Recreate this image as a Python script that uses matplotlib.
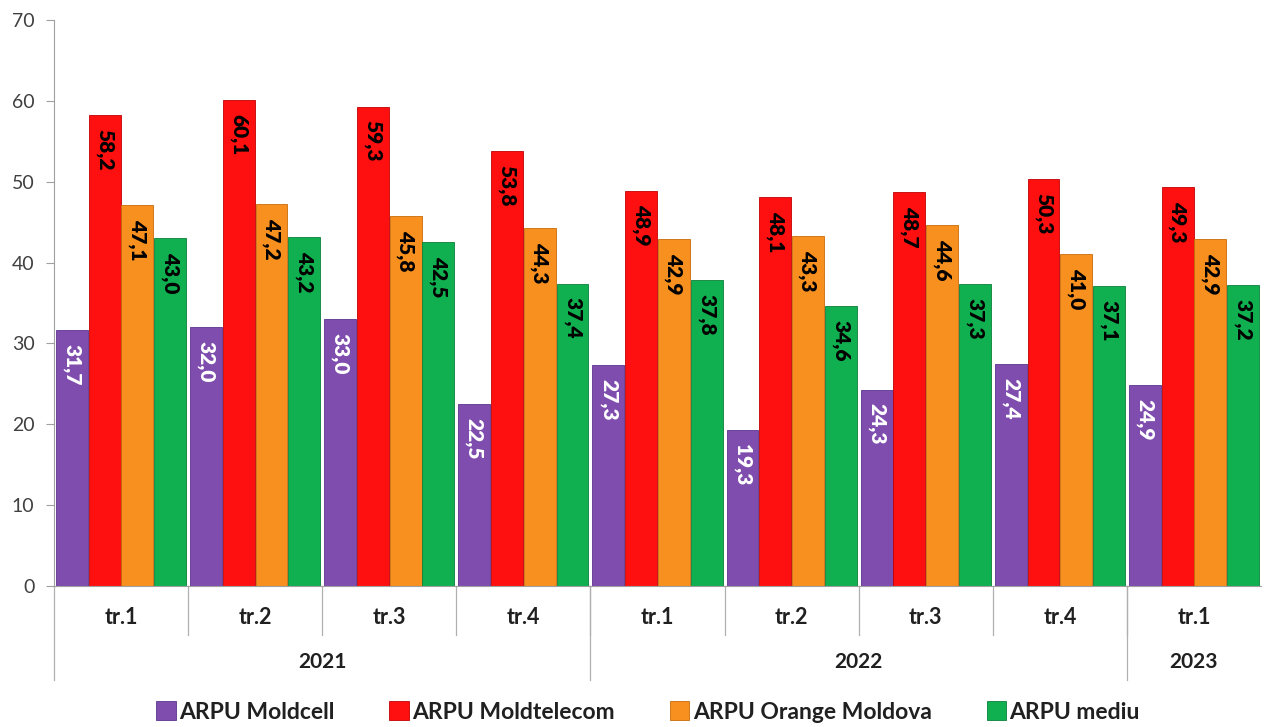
import matplotlib
matplotlib.use("Agg")
import matplotlib.pyplot as plt
import numpy as np

quarters = ["tr.1", "tr.2", "tr.3", "tr.4", "tr.1", "tr.2", "tr.3", "tr.4", "tr.1"]
years = ["2021", "2022", "2023"]
year_spans = [(0, 3), (4, 7), (8, 8)]
series_names = ["ARPU Moldcell", "ARPU Moldtelecom", "ARPU Orange Moldova", "ARPU mediu"]
moldcell = [31.7, 32.0, 33.0, 22.5, 27.3, 19.3, 24.3, 27.4, 24.9]
moldtelecom = [58.2, 60.1, 59.3, 53.8, 48.9, 48.1, 48.7, 50.3, 49.3]
orange = [47.1, 47.2, 45.8, 44.3, 42.9, 43.3, 44.6, 41.0, 42.9]
mediu = [43.0, 43.2, 42.5, 37.4, 37.8, 34.6, 37.3, 37.1, 37.2]
yticks = [0, 10, 20, 30, 40, 50, 60, 70]

series = [moldcell, moldtelecom, orange, mediu]
colors = ["#7E4DAE", "#FF1010", "#F7901E", "#10B050"]
edge_colors = ["#5E3390", "#C00000", "#C86A0A", "#0A8038"]
label_colors = ["white", "black", "black", "black"]

plt.rcParams['font.family'] = ['Lato', 'DejaVu Sans']

fig = plt.figure(figsize=(12.64, 7.27), dpi=100)
ax = fig.add_axes([54/1264, 1-586/727, (1261-54)/1264, (586-20)/727])

x = np.arange(len(quarters))
bw = 0.238
offsets = (np.arange(4) - 1.5) * (bw + 0.006)
for s, vals in enumerate(series):
    ax.bar(x + offsets[s], vals, width=bw, color=colors[s],
           edgecolor=edge_colors[s], linewidth=0.6, label=series_names[s], zorder=2)
    for xi, v in zip(x + offsets[s], vals):
        ax.annotate(f"{v:.1f}".replace(".", ","), (xi, v), xytext=(0, -10),
                    textcoords="offset points", rotation=-90, ha="center", va="top",
                    fontsize=15, fontweight="heavy", color=label_colors[s], zorder=3)

ax.set_xlim(-0.5, len(quarters) - 0.5)
ax.set_ylim(0, 70)
ax.set_yticks(yticks)
ax.set_yticklabels([str(t) for t in yticks], fontsize=14, color="#404040")
ax.tick_params(axis="y", length=6, color="#A0A0A0", pad=8)
ax.set_xticks([])
for sp in ["top", "right"]:
    ax.spines[sp].set_visible(False)
ax.spines["left"].set_color("#A0A0A0")
ax.spines["bottom"].set_color("#A0A0A0")

trans = ax.get_xaxis_transform()
axh = 566.0
for i, q in enumerate(quarters):
    ax.text(i, -32/axh, q, transform=trans, ha="center", va="center",
            fontsize=15.5, fontweight="bold", color="#202020")
for i in range(len(quarters) - 1):
    ax.plot([i + 0.5, i + 0.5], [0, -49/axh], transform=trans, color="#B0B0B0",
            linewidth=0.9, clip_on=False)
for (a, b), yname in zip(year_spans, years):
    ax.text((a + b) / 2, -76/axh, yname, transform=trans, ha="center", va="center",
            fontsize=15, fontweight="bold", color="#202020")
for xs in [-0.5, 3.5, 7.5]:
    ax.plot([xs, xs], [0, -94/axh], transform=trans, color="#B0B0B0",
            linewidth=0.9, clip_on=False)

handles, labels = ax.get_legend_handles_labels()
leg = fig.legend(handles, labels, loc="center", bbox_to_anchor=(648/1264, 1-712/727),
                 ncol=4, frameon=False, fontsize=16.5, handlelength=0.85, handleheight=0.85,
                 columnspacing=2.4, handletextpad=0.15)
for t in leg.get_texts():
    t.set_fontweight("bold")
    t.set_color("#202020")

fig.savefig("out.png", dpi=100)
